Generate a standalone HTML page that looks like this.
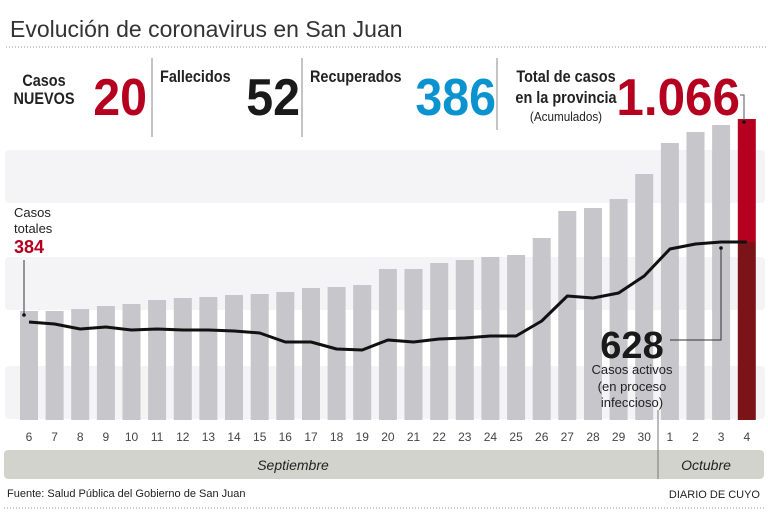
<!DOCTYPE html>
<html><head><meta charset="utf-8"><style>
html,body{margin:0;padding:0;background:#fff;}
svg{display:block;font-family:"Liberation Sans",sans-serif;}
</style></head><body>
<svg width="768" height="512" viewBox="0 0 768 512" xmlns="http://www.w3.org/2000/svg">
<text x="10" y="37" font-size="23" fill="#333">Evolución de coronavirus en San Juan</text>
<line x1="6" y1="47" x2="766" y2="47" stroke="#999" stroke-dasharray="1,2"/>
<g stroke="#888" stroke-width="1">
<line x1="152" y1="58" x2="152" y2="137"/><line x1="302" y1="58" x2="302" y2="137"/><line x1="497" y1="58" x2="497" y2="130"/>
</g>
<g font-weight="bold" font-size="17" fill="#222">
<text x="44" y="86" text-anchor="middle" transform="translate(44 0) scale(0.85 1) translate(-44 0)">Casos</text>
<text x="44" y="104" text-anchor="middle" transform="translate(44 0) scale(0.85 1) translate(-44 0)">NUEVOS</text>
<text x="160" y="82" transform="translate(160 0) scale(0.85 1) translate(-160 0)">Fallecidos</text>
<text x="310" y="82" transform="translate(310 0) scale(0.85 1) translate(-310 0)">Recuperados</text>
<text x="566" y="82" text-anchor="middle" transform="translate(566 0) scale(0.85 1) translate(-566 0)">Total de casos</text>
<text x="566" y="103" text-anchor="middle" transform="translate(566 0) scale(0.85 1) translate(-566 0)">en la provincia</text>
</g>
<text x="566" y="121" text-anchor="middle" font-size="13" fill="#222" transform="translate(566 0) scale(0.9 1) translate(-566 0)">(Acumulados)</text>
<g font-weight="bold" font-size="52">
<text x="147" y="115" text-anchor="end" fill="#b5001f" transform="translate(147 0) scale(0.93 1) translate(-147 0)">20</text>
<text x="300" y="115" text-anchor="end" fill="#1a1a1a" transform="translate(300 0) scale(0.93 1) translate(-300 0)">52</text>
<text x="496" y="115" text-anchor="end" fill="#0a93cf" transform="translate(496 0) scale(0.93 1) translate(-496 0)">386</text>
<text x="740" y="115" text-anchor="end" fill="#b5001f" transform="translate(740 0) scale(0.95 1) translate(-740 0)">1.066</text>
</g>
<g fill="#f4f4f6">
<rect x="5" y="150" width="760" height="53" rx="4"/>
<rect x="5" y="257" width="760" height="53" rx="4"/>
<rect x="5" y="366" width="760" height="53" rx="4"/>
</g>
<g fill="#c6c6cb">
<rect x="20" y="311" width="18" height="109"/>
<rect x="45.6" y="311" width="18" height="109"/>
<rect x="71.2" y="309" width="18" height="111"/>
<rect x="96.9" y="306" width="18" height="114"/>
<rect x="122.5" y="304" width="18" height="116"/>
<rect x="148.1" y="300" width="18" height="120"/>
<rect x="173.8" y="298" width="18" height="122"/>
<rect x="199.4" y="297" width="18" height="123"/>
<rect x="225" y="295" width="18" height="125"/>
<rect x="250.7" y="294" width="18" height="126"/>
<rect x="276.3" y="292" width="18" height="128"/>
<rect x="302" y="288" width="18" height="132"/>
<rect x="327.6" y="287" width="18" height="133"/>
<rect x="353.2" y="285" width="18" height="135"/>
<rect x="378.9" y="269" width="18" height="151"/>
<rect x="404.5" y="269" width="18" height="151"/>
<rect x="430.2" y="263" width="18" height="157"/>
<rect x="455.8" y="260" width="18" height="160"/>
<rect x="481.4" y="257" width="18" height="163"/>
<rect x="507.1" y="255" width="18" height="165"/>
<rect x="532.7" y="238" width="18" height="182"/>
<rect x="558.3" y="211" width="18" height="209"/>
<rect x="584" y="208" width="18" height="212"/>
<rect x="609.6" y="199" width="18" height="221"/>
<rect x="635.2" y="174" width="18" height="246"/>
<rect x="660.9" y="143" width="18" height="277"/>
<rect x="686.5" y="132" width="18" height="288"/>
<rect x="712.1" y="125" width="18" height="295"/>
</g>
<rect x="737.8" y="119" width="18" height="123" fill="#b5001f"/>
<rect x="737.8" y="242" width="18" height="178" fill="#7a1418"/>
<polyline fill="none" stroke="#111" stroke-width="3" stroke-linejoin="round" points="29,322 54.6,324 80.2,329 105.9,327 131.5,330 157.1,329 182.8,330 208.4,330 234,331 259.7,333 285.3,342 311,342 336.6,349 362.2,350 387.9,340 413.5,342 439.2,339 464.8,338 490.4,336 516.1,336 541.7,321 567.3,296 593,298 618.6,293 644.2,276 669.9,249 695.5,244 721.1,242 746.8,242"/>
<text x="14" y="217" font-size="13" fill="#222">Casos</text>
<text x="14" y="233" font-size="13" fill="#222">totales</text>
<text x="14" y="253" font-size="18" font-weight="bold" fill="#b5001f">384</text>
<line x1="24" y1="260" x2="24" y2="314" stroke="#333"/><circle cx="24" cy="315" r="1.8" fill="#111"/>
<path d="M740 95 H744 V120" fill="none" stroke="#555"/><circle cx="744" cy="122" r="1.8" fill="#111"/>
<text x="632" y="358" font-size="38" font-weight="bold" fill="#1a1a1a" text-anchor="middle">628</text>
<path d="M670 340 H721 V249" fill="none" stroke="#333"/><circle cx="721" cy="248" r="1.8" fill="#111"/>
<g font-size="13" fill="#222" text-anchor="middle">
<text x="632" y="374">Casos activos</text><text x="632" y="391">(en proceso</text><text x="632" y="407">infeccioso)</text>
</g>
<g font-size="12" fill="#444" text-anchor="middle">
<text x="29" y="441">6</text><text x="54.6" y="441">7</text><text x="80.2" y="441">8</text><text x="105.9" y="441">9</text><text x="131.5" y="441">10</text><text x="157.1" y="441">11</text><text x="182.8" y="441">12</text><text x="208.4" y="441">13</text><text x="234" y="441">14</text><text x="259.7" y="441">15</text><text x="285.3" y="441">16</text><text x="311" y="441">17</text><text x="336.6" y="441">18</text><text x="362.2" y="441">19</text><text x="387.9" y="441">20</text><text x="413.5" y="441">21</text><text x="439.2" y="441">22</text><text x="464.8" y="441">23</text><text x="490.4" y="441">24</text><text x="516.1" y="441">25</text><text x="541.7" y="441">26</text><text x="567.3" y="441">27</text><text x="593" y="441">28</text><text x="618.6" y="441">29</text><text x="644.2" y="441">30</text><text x="669.9" y="441">1</text><text x="695.5" y="441">2</text><text x="721.1" y="441">3</text><text x="746.8" y="441">4</text>
</g>
<rect x="4" y="450" width="760" height="29" rx="4" fill="#d3d3cd"/>
<line x1="658" y1="410" x2="658" y2="479" stroke="#777"/>
<text x="293" y="470" font-size="14" font-style="italic" fill="#222" text-anchor="middle">Septiembre</text>
<text x="706" y="470" font-size="14" font-style="italic" fill="#222" text-anchor="middle">Octubre</text>
<text x="7" y="497" font-size="11" fill="#222">Fuente: Salud Pública del Gobierno de San Juan</text>
<text x="760" y="498" font-size="11" fill="#222" text-anchor="end">DIARIO DE CUYO</text>
<line x1="4" y1="508" x2="766" y2="508" stroke="#999" stroke-dasharray="1,2"/>
</svg>
</body></html>
